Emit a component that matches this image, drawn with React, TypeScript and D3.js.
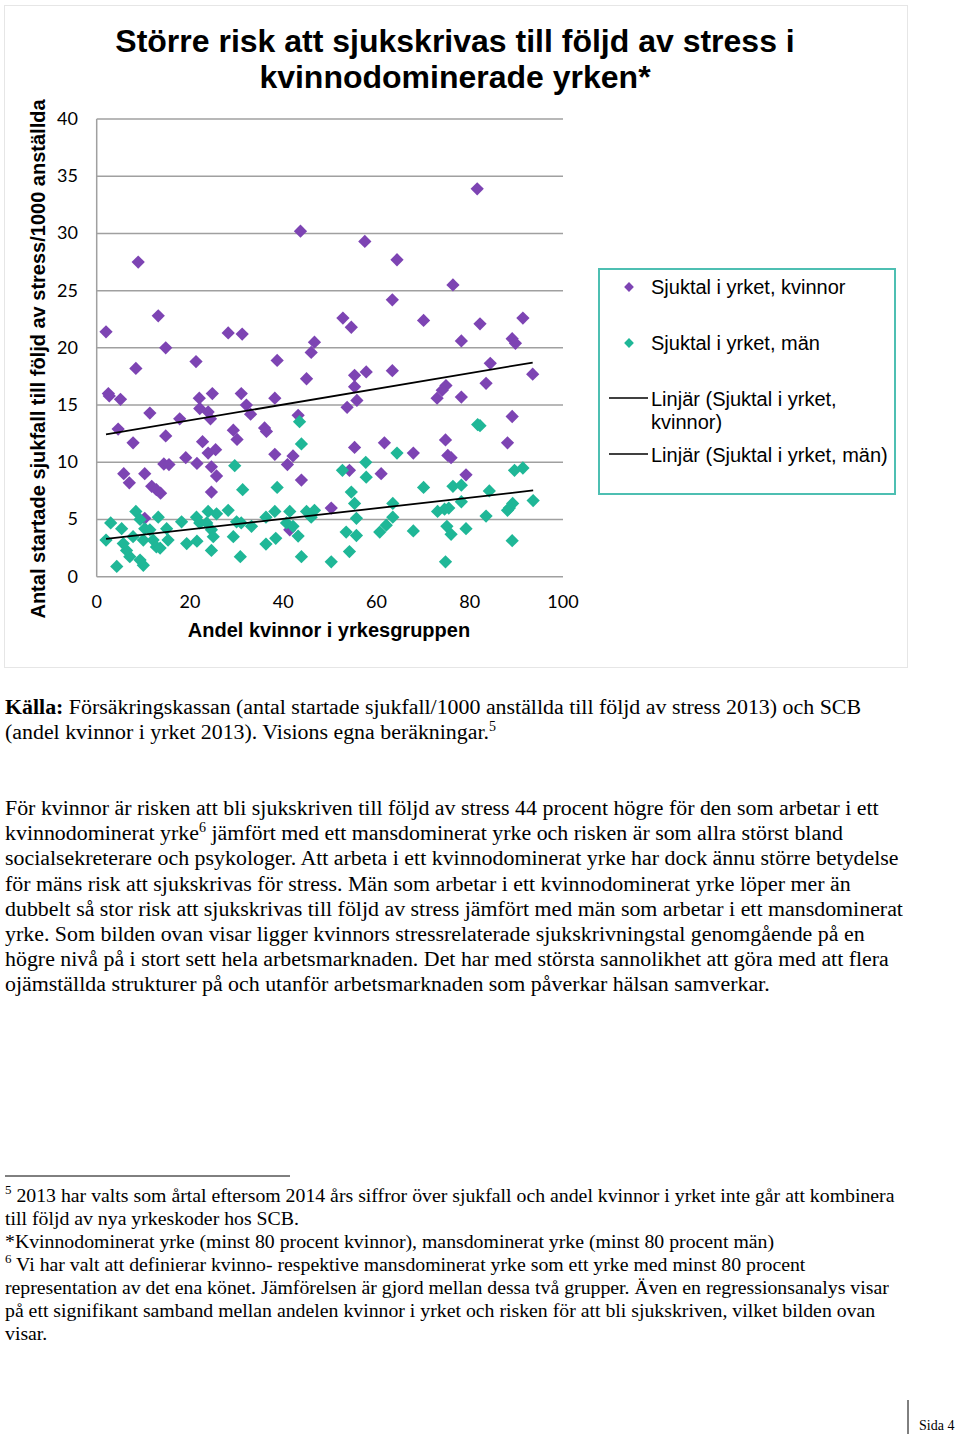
import React from "react";
import * as d3 from "d3";

// Sjuktal i yrket, kvinnor: [andel kvinnor %, sjukfall/1000]
const womenX = [8.9,2.0,13.2,28.2,31.2,14.8,21.3,8.4,2.5,2.7,5.1,24.8,31.0,22.0,32.1,11.4,22.1,23.9,24.4,17.8,4.6,14.8,7.8,29.3,30.1,22.7,25.5,23.9,19.1,14.4,15.5,21.5,24.6,25.7,5.8,10.3,7.0,11.8,12.8,13.7,24.6,10.3,43.7,57.5,64.4,63.4,52.8,54.6,46.7,46.0,38.7,45.0,55.3,57.8,55.3,63.4,38.2,55.8,53.7,33.0,43.2,36.0,36.4,38.2,42.1,40.9,55.3,61.7,54.2,61.0,43.9,50.3,41.4,81.6,76.4,70.1,82.2,91.4,78.2,89.1,89.8,84.4,83.5,93.5,74.9,74.1,73.0,78.2,89.1,74.8,88.1,67.9,75.3,76.0,79.2];
const womenY = [27.5,21.4,22.8,21.3,21.2,20.0,18.8,18.2,16.0,15.8,15.5,16.0,16.0,15.6,15.0,14.3,14.7,14.4,13.8,13.8,12.9,12.3,11.7,12.8,12.0,11.8,11.1,10.8,10.4,9.85,9.8,9.9,9.6,8.8,9.0,9.0,8.2,7.9,7.6,7.3,7.4,5.1,30.2,29.3,27.7,24.2,22.6,21.8,20.5,19.6,18.9,17.3,17.6,17.9,16.6,18.0,15.6,15.4,14.8,14.2,14.1,13.0,12.7,10.7,10.55,9.8,11.3,11.7,9.3,9.0,8.45,6.0,4.1,33.9,25.5,22.4,22.1,22.6,20.6,20.8,20.4,18.65,16.9,17.7,16.7,16.3,15.6,15.7,14.0,11.95,11.7,10.8,10.6,10.4,8.9];

// Sjuktal i yrket, män
const menX = [29.6,31.3,8.4,3.0,13.2,5.35,2.0,4.3,10.0,9.3,7.1,6.4,5.7,7.8,9.3,10.3,11.4,10.0,12.1,12.8,13.6,15.0,15.3,18.2,19.3,21.5,21.4,22.1,23.9,25.7,28.2,23.6,24.6,25.0,24.6,29.3,30.0,31.0,30.8,43.5,43.9,38.7,33.2,36.3,38.2,36.3,38.4,40.7,42.1,41.4,43.2,45.0,46.7,46.0,43.9,50.3,52.7,54.6,55.3,55.7,53.5,55.7,54.2,57.7,57.8,60.7,62.1,63.5,63.5,64.4,81.7,82.2,70.1,76.4,78.2,78.2,84.2,89.6,91.4,93.6,89.2,88.5,88.1,73.1,74.6,75.5,83.5,75.1,76.0,79.2,67.9,89.1,74.8];
const menY = [9.7,7.6,5.7,4.7,5.2,4.2,3.2,0.9,1.0,1.45,1.75,2.3,2.9,3.5,5.0,4.2,4.1,3.2,3.2,2.6,2.5,4.2,3.2,4.8,2.9,3.1,5.2,4.7,5.7,5.5,5.8,4.7,4.1,3.5,2.3,3.5,4.8,4.7,1.75,13.55,11.6,7.8,4.4,5.2,5.7,2.85,3.35,4.7,4.4,5.7,3.55,5.7,5.8,5.2,1.75,1.3,9.3,7.4,6.4,5.1,3.9,3.6,2.2,10.0,8.7,3.9,4.5,6.4,5.2,10.8,13.3,13.2,7.8,7.9,8.0,6.55,7.5,9.3,9.5,6.65,6.4,6.0,5.8,5.7,5.9,6.0,5.3,4.4,3.7,4.2,4.0,3.15,1.3];

const yTicks = [0, 5, 10, 15, 20, 25, 30, 35, 40];
const xTicks = [0, 20, 40, 60, 80, 100];

const titleLines = ["Större risk att sjukskrivas till följd av stress i", "kvinnodominerade yrken*"];
const yTitle = "Antal startade sjukfall till följd av stress/1000 anställda";
const xTitle = "Andel kvinnor i yrkesgruppen";
const legendLabels = ["Sjuktal i yrket, kvinnor", "Sjuktal i yrket, män", "Linjär (Sjuktal i yrket,", "kvinnor)", "Linjär (Sjuktal i yrket, män)"];

const paragraphLines = [
  "För kvinnor är risken att bli sjukskriven till följd av stress 44 procent högre för den som arbetar i ett",
  "kvinnodominerat yrke|6| jämfört med ett mansdominerat yrke och risken är som allra störst bland",
  "socialsekreterare och psykologer. Att arbeta i ett kvinnodominerat yrke har dock ännu större betydelse",
  "för mäns risk att sjukskrivas för stress. Män som arbetar i ett kvinnodominerat yrke löper mer än",
  "dubbelt så stor risk att sjukskrivas till följd av stress jämfört med män som arbetar i ett mansdominerat",
  "yrke. Som bilden ovan visar ligger kvinnors stressrelaterade sjukskrivningstal genomgående på en",
  "högre nivå på i stort sett hela arbetsmarknaden. Det har med största sannolikhet att göra med att flera",
  "ojämställda strukturer på och utanför arbetsmarknaden som påverkar hälsan samverkar.",
];

const footLines = [
  "|5| 2013 har valts som årtal eftersom 2014 års siffror över sjukfall och andel kvinnor i yrket inte går att kombinera",
  "till följd av nya yrkeskoder hos SCB.",
  "*Kvinnodominerat yrke (minst 80 procent kvinnor), mansdominerat yrke (minst 80 procent män)",
  "|6| Vi har valt att definierar kvinno- respektive mansdominerat yrke som ett yrke med minst 80 procent",
  "representation av det ena könet. Jämförelsen är gjord mellan dessa två grupper. Även en regressionsanalys visar",
  "på ett signifikant samband mellan andelen kvinnor i yrket och risken för att bli sjukskriven, vilket bilden ovan",
  "visar.",
];

const PURPLE = "#7d44b3";
const TEAL = "#1fb797";

function regression(xs: number[], ys: number[]) {
  const mx = d3.mean(xs)!;
  const my = d3.mean(ys)!;
  let num = 0, den = 0;
  xs.forEach((x, i) => { num += (x - mx) * (ys[i] - my); den += (x - mx) ** 2; });
  const b = num / den;
  const a = my - b * mx;
  const [x0, x1] = d3.extent(xs) as [number, number];
  return [[x0, a + b * x0], [x1, a + b * x1]];
}

function richLine(s: string, supSize: number, key: string) {
  const parts = s.split("|");
  return parts.map((p, i) =>
    i % 2 === 1 ? (
      <tspan key={key + i} fontSize={supSize} dy={-8}>{p}</tspan>
    ) : (
      <tspan key={key + i} dy={i > 0 ? 8 : 0}>{p}</tspan>
    )
  );
}

export default function App() {
  const x = d3.scaleLinear().domain([0, 100]).range([96.7, 563]);
  const y = d3.scaleLinear().domain([0, 40]).range([576.7, 119]);
  const diamond = d3.symbol().type(d3.symbolSquare).size(88)()!;
  const legendDiamond = d3.symbol().type(d3.symbolSquare).size(48)()!;
  const line = d3.line<number[]>().x((d) => x(d[0])).y((d) => y(d[1]));
  const trendW = regression(womenX, womenY);
  const trendM = regression(menX, menY);

  return (
    <svg width={960} height={1434} style={{ position: "absolute", left: 0, top: 0, background: "#fff" }}>
      <rect x={4.5} y={5.5} width={903} height={662} fill="#fff" stroke="#e6e6e6" strokeWidth={1} />
      <g fontFamily="'Liberation Sans', Arial, sans-serif" fontWeight="bold" fontSize={32} textAnchor="middle" fill="#000">
        {titleLines.map((t, i) => (
          <text key={i} x={455} y={52 + i * 36}>{t}</text>
        ))}
      </g>
      {/* gridlines */}
      {yTicks.map((t) => (
        <line key={t} x1={x(0)} x2={x(100)} y1={y(t)} y2={y(t)} stroke="#a0a0a0" strokeWidth={1.5} />
      ))}
      <line x1={x(0)} x2={x(0)} y1={y(0)} y2={y(40)} stroke="#a0a0a0" strokeWidth={1.5} />
      <g fontFamily="Lato, 'Open Sans', sans-serif" fontSize={18} fill="#000">
        {yTicks.map((t) => (
          <text key={t} x={78} y={y(t) + 6} textAnchor="end">{t}</text>
        ))}
        {xTicks.map((t) => (
          <text key={t} x={x(t)} y={608} textAnchor="middle">{t}</text>
        ))}
      </g>
      <text x={329} y={637} textAnchor="middle" fontFamily="'Liberation Sans', Arial, sans-serif" fontWeight="bold" fontSize={20}>{xTitle}</text>
      <text transform="translate(45,359) rotate(-90)" textAnchor="middle" fontFamily="'Liberation Sans', Arial, sans-serif" fontWeight="bold" fontSize={20}>{yTitle}</text>
      {/* points */}
      {womenX.map((v, i) => (
        <path key={"w" + i} d={diamond} transform={`translate(${x(v)},${y(womenY[i])}) rotate(45)`} fill={PURPLE} />
      ))}
      {menX.map((v, i) => (
        <path key={"m" + i} d={diamond} transform={`translate(${x(v)},${y(menY[i])}) rotate(45)`} fill={TEAL} />
      ))}
      <path d={line(trendW)!} stroke="#000" strokeWidth={1.8} fill="none" />
      <path d={line(trendM)!} stroke="#000" strokeWidth={1.8} fill="none" />
      {/* legend */}
      <rect x={599} y={269} width={296} height={225} fill="#fff" stroke="#4dbfb2" strokeWidth={2} />
      <g fontFamily="'Liberation Sans', Arial, sans-serif" fontSize={20} fill="#000">
        <path d={legendDiamond} transform="translate(629,287) rotate(45)" fill={PURPLE} />
        <text x={651} y={294}>{legendLabels[0]}</text>
        <path d={legendDiamond} transform="translate(629,343) rotate(45)" fill={TEAL} />
        <text x={651} y={350}>{legendLabels[1]}</text>
        <line x1={609} x2={648} y1={398} y2={398} stroke="#000" strokeWidth={1.5} />
        <text x={651} y={406}>{legendLabels[2]}</text>
        <text x={651} y={429}>{legendLabels[3]}</text>
        <line x1={609} x2={648} y1={454} y2={454} stroke="#000" strokeWidth={1.5} />
        <text x={651} y={462}>{legendLabels[4]}</text>
      </g>
      {/* body text */}
      <g fontFamily="'Liberation Serif', 'Times New Roman', serif" fontSize={21.9} fill="#000">
        <text x={5} y={714}>
          <tspan fontWeight="bold">Källa:</tspan>
          <tspan> Försäkringskassan (antal startade sjukfall/1000 anställda till följd av stress 2013) och SCB</tspan>
        </text>
        <text x={5} y={739}>
          {richLine("(andel kvinnor i yrket 2013). Visions egna beräkningar.|5|", 14, "s")}
        </text>
        {paragraphLines.map((l, i) => (
          <text key={i} x={5} y={815 + i * 25.2}>{richLine(l, 14, "p" + i)}</text>
        ))}
      </g>
      <line x1={5} x2={290} y1={1176} y2={1176} stroke="#000" strokeWidth={1} />
      <g fontFamily="'Liberation Serif', 'Times New Roman', serif" fontSize={19.8} fill="#000">
        <text x={5} y={1202}>{richLine(footLines[0], 13, "f0")}</text>
        {footLines.slice(1).map((l, i) => (
          <text key={i} x={5} y={1225 + i * 23}>{richLine(l, 13, "f" + (i + 1))}</text>
        ))}
      </g>
      <line x1={908} x2={908} y1={1400} y2={1434} stroke="#000" strokeWidth={1} />
      <text x={919} y={1430} fontFamily="'Liberation Serif', 'Times New Roman', serif" fontSize={14}>Sida 4</text>
    </svg>
  );
}
